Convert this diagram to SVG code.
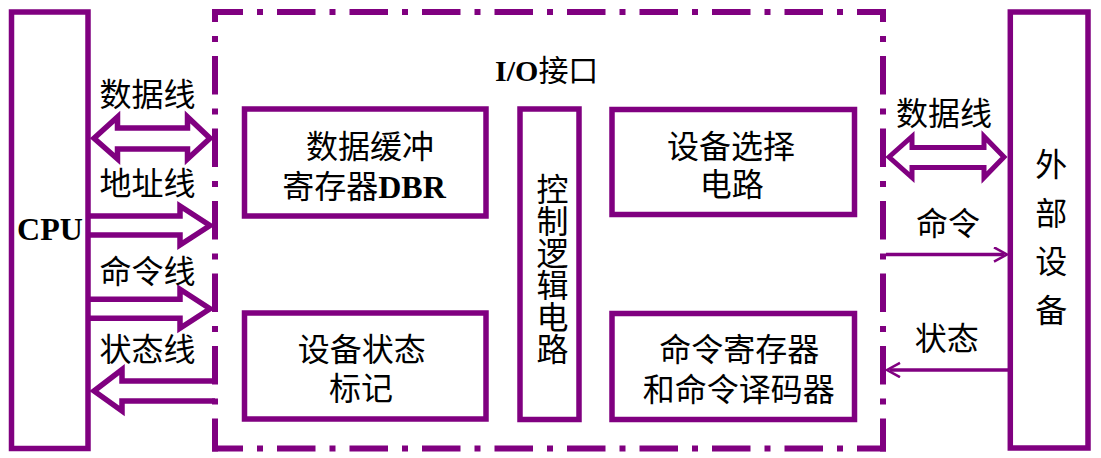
<svg xmlns="http://www.w3.org/2000/svg" width="1101" height="458" viewBox="0 0 1101 458">
<defs>
<style>
.box{fill:none;stroke:#800080;stroke-width:5.5}
.border{fill:none;stroke:#800080;stroke-width:6;stroke-dasharray:38.5 14 6 14}
.hollow{fill:none;stroke:#800080;stroke-width:5.5;stroke-linejoin:miter;stroke-miterlimit:10}
.hollow2{fill:none;stroke:#800080;stroke-width:5;stroke-linejoin:miter;stroke-miterlimit:10}
.thin{fill:none;stroke:#800080;stroke-width:3.5}
text{font-family:"Liberation Sans","Noto Sans CJK SC","Noto Sans CJK JP",sans-serif;font-size:32px;fill:#000;text-anchor:middle}
.lat{font-family:"Liberation Serif",serif;font-weight:bold}
.vert{writing-mode:vertical-rl;font-family:"Noto Sans CJK SC","Noto Sans CJK JP",sans-serif}
</style>
<marker id="openArrow" markerUnits="userSpaceOnUse" markerWidth="20" markerHeight="20" refX="11" refY="8" orient="auto">
<path d="M1,0.8 L14,8 L1,15.2" fill="none" stroke="#800080" stroke-width="2.5"/>
</marker>
</defs>
<rect width="1101" height="458" fill="#fff"/>

<g id="cpu">
<rect class="box" x="11.5" y="12" width="76.5" height="436.5"/>
<text class="lat" x="50" y="240" font-size="30">CPU</text>
</g>

<g id="io-interface">
<line class="border" x1="212" y1="12" x2="886" y2="12" stroke-dashoffset="7.5"/>
<line class="border" x1="212" y1="448.5" x2="886" y2="448.5" stroke-dashoffset="7.5"/>
<line class="border" x1="215" y1="9" x2="215" y2="451.5" stroke-dashoffset="25.5"/>
<line class="border" x1="883" y1="9" x2="883" y2="451.5" stroke-dashoffset="25.5"/>
<text x="546.7" y="81"><tspan class="lat" font-size="30">I/O</tspan><tspan font-size="30">接口</tspan></text>
</g>

<g id="dbr">
<rect class="box" x="244.5" y="109" width="241.5" height="107"/>
<text><tspan x="370" y="158">数据缓冲</tspan><tspan x="364" y="197.5">寄存器<tspan class="lat">DBR</tspan></tspan></text>
</g>

<g id="status-flag">
<rect class="box" x="244.5" y="313" width="241.5" height="106"/>
<text><tspan x="361.7" y="361">设备状态</tspan><tspan x="361" y="399.5">标记</tspan></text>
</g>

<g id="control-logic">
<rect class="box" x="520" y="109" width="59" height="310.5"/>
<text class="vert" x="552.5" y="269">控制逻辑电路</text>
</g>

<g id="device-select">
<rect class="box" x="612" y="109.5" width="242.5" height="105"/>
<text><tspan x="731" y="158">设备选择</tspan><tspan x="731.7" y="196">电路</tspan></text>
</g>

<g id="cmd-register">
<rect class="box" x="612" y="313.5" width="242.5" height="106"/>
<text><tspan x="739.3" y="361">命令寄存器</tspan><tspan x="738.8" y="401">和命令译码器</tspan></text>
</g>

<g id="ext-device">
<rect class="box" x="1010.3" y="12" width="77.7" height="436"/>
<text x="1051.3" y="176">外</text>
<text x="1051.3" y="224.5">部</text>
<text x="1051.3" y="273">设</text>
<text x="1051.3" y="321.5">备</text>
</g>

<g id="connectors">
<polygon class="hollow" points="94,138.3 117.5,117 117.5,128 187.5,128 187.5,117 210,138.3 187.5,159 187.5,149 117.5,149 117.5,159"/>
<polyline class="hollow" points="88,216 180,216 180,206 210,225.5 180,245 180,235 88,235"/>
<polyline class="hollow" points="88,299.2 180,299.2 180,289.2 210,308.7 180,328.2 180,318.2 88,318.2"/>
<polyline class="hollow" points="215,381 122,381 122,369.5 94,391 122,411 122,401 215,401"/>
<polygon class="hollow2" points="889,157 912,136.5 912,147.5 984,147.5 984,136.5 1004,157 984,177.5 984,167.5 912,167.5 912,177.5"/>
<line class="thin" x1="886" y1="254.5" x2="1004" y2="254.5" marker-end="url(#openArrow)"/>
<line class="thin" x1="1008" y1="370" x2="890" y2="370" marker-end="url(#openArrow)"/>
<text x="147.5" y="106">数据线</text>
<text x="147.5" y="195">地址线</text>
<text x="147.5" y="283">命令线</text>
<text x="147.5" y="361">状态线</text>
<text x="944" y="124.5">数据线</text>
<text x="948" y="234.5">命令</text>
<text x="946.7" y="349.5">状态</text>
</g>
</svg>
